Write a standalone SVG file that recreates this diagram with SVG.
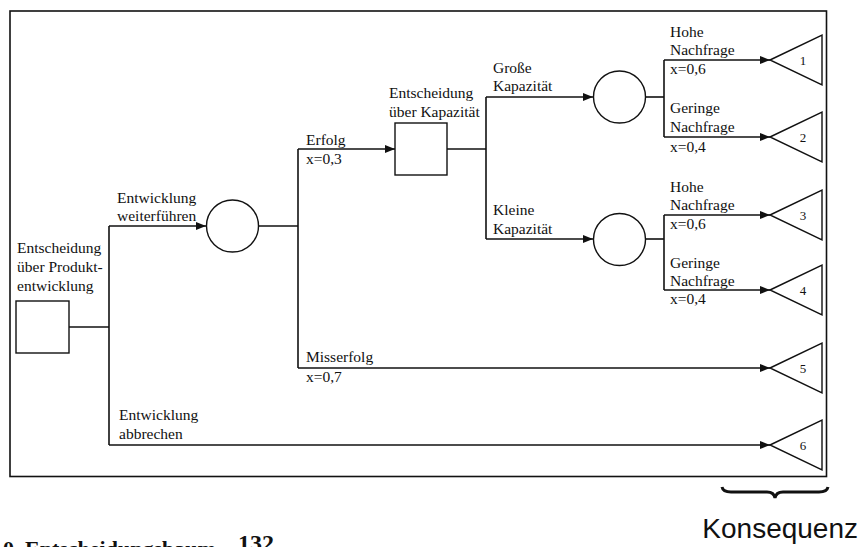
<svg xmlns="http://www.w3.org/2000/svg" width="862" height="547" viewBox="0 0 862 547">
  <style>
    .ln { fill: none; stroke: #111; stroke-width: 1.6; }
    .shape { fill: #fff; stroke: #111; stroke-width: 1.4; }
    .lbl { font-family: "Liberation Serif", "Times New Roman", serif; font-size: 15.5px; fill: #111; }
    .num { font-family: "Liberation Serif", "Times New Roman", serif; font-size: 13px; fill: #111; text-anchor: middle; dominant-baseline: central; }
  </style>
  <defs>
    <marker id="arr" viewBox="0 0 10 8" refX="10" refY="4" markerWidth="10" markerHeight="8" markerUnits="userSpaceOnUse" orient="auto">
      <path d="M0,0 L10,4 L0,8 Z" fill="#111"/>
    </marker>
  </defs>

  <rect x="10" y="11" width="816.5" height="465.5" fill="none" stroke="#111" stroke-width="1.6"/>

  <!-- connectors -->
  <g id="connectors">
    <!-- product development decision -->
    <path class="ln" d="M69,327 H109"/>
    <path class="ln" d="M109,226 V445"/>
    <path class="ln" d="M109,226 H206" marker-end="url(#arr)"/>
    <path class="ln" d="M109,445 H770" marker-end="url(#arr)"/>
    <!-- success / failure chance -->
    <path class="ln" d="M259,226 H298"/>
    <path class="ln" d="M298,149 V368"/>
    <path class="ln" d="M298,149 H395" marker-end="url(#arr)"/>
    <path class="ln" d="M298,368 H770" marker-end="url(#arr)"/>
    <!-- capacity decision -->
    <path class="ln" d="M447,149 H486"/>
    <path class="ln" d="M486,97 V239"/>
    <path class="ln" d="M486,97 H593" marker-end="url(#arr)"/>
    <path class="ln" d="M486,239 H593" marker-end="url(#arr)"/>
    <!-- demand chances -->
    <path class="ln" d="M646,97 H664"/>
    <path class="ln" d="M664,60 V137"/>
    <path class="ln" d="M664,60 H770" marker-end="url(#arr)"/>
    <path class="ln" d="M664,137 H770" marker-end="url(#arr)"/>
    <path class="ln" d="M646,239 H664"/>
    <path class="ln" d="M664,215 V290"/>
    <path class="ln" d="M664,215 H770" marker-end="url(#arr)"/>
    <path class="ln" d="M664,290 H770" marker-end="url(#arr)"/>
  </g>

  <!-- decision and chance nodes -->
  <g id="decision-product">
    <rect class="shape" x="16" y="301" width="53" height="52"/>
    <text class="lbl" x="17" y="253">Entscheidung</text>
    <text class="lbl" x="17" y="272">über Produkt-</text>
    <text class="lbl" x="17" y="291">entwicklung</text>
  </g>
  <g id="chance-development">
    <circle class="shape" cx="232.5" cy="226" r="26"/>
  </g>
  <g id="decision-capacity">
    <rect class="shape" x="395" y="123" width="52" height="52"/>
    <text class="lbl" x="389" y="98">Entscheidung</text>
    <text class="lbl" x="389" y="117">über Kapazität</text>
  </g>
  <g id="chance-large">
    <circle class="shape" cx="619.5" cy="97" r="26"/>
  </g>
  <g id="chance-small">
    <circle class="shape" cx="619.5" cy="239.5" r="26"/>
  </g>

  <!-- branch labels -->
  <g id="labels">
    <text class="lbl" x="117" y="203">Entwicklung</text>
    <text class="lbl" x="117" y="221">weiterführen</text>
    <text class="lbl" x="119" y="420">Entwicklung</text>
    <text class="lbl" x="119" y="439">abbrechen</text>
    <text class="lbl" x="306" y="145">Erfolg</text>
    <text class="lbl" x="306" y="164">x=0,3</text>
    <text class="lbl" x="306" y="362">Misserfolg</text>
    <text class="lbl" x="306" y="382">x=0,7</text>
    <text class="lbl" x="493" y="73">Große</text>
    <text class="lbl" x="493" y="91">Kapazität</text>
    <text class="lbl" x="493" y="215">Kleine</text>
    <text class="lbl" x="493" y="234">Kapazität</text>
    <text class="lbl" x="670" y="37">Hohe</text>
    <text class="lbl" x="670" y="55">Nachfrage</text>
    <text class="lbl" x="670" y="74">x=0,6</text>
    <text class="lbl" x="670" y="113">Geringe</text>
    <text class="lbl" x="670" y="132">Nachfrage</text>
    <text class="lbl" x="670" y="152">x=0,4</text>
    <text class="lbl" x="670" y="192">Hohe</text>
    <text class="lbl" x="670" y="210">Nachfrage</text>
    <text class="lbl" x="670" y="229">x=0,6</text>
    <text class="lbl" x="670" y="268">Geringe</text>
    <text class="lbl" x="670" y="286">Nachfrage</text>
    <text class="lbl" x="670" y="304">x=0,4</text>
  </g>

  <!-- consequence nodes -->
  <g id="consequence-1"><path class="shape" d="M770,60 L822,35 V85 Z"/><text class="num" x="803" y="60">1</text></g>
  <g id="consequence-2"><path class="shape" d="M770,137 L822,112 V162 Z"/><text class="num" x="803" y="137">2</text></g>
  <g id="consequence-3"><path class="shape" d="M770,215 L822,190 V240 Z"/><text class="num" x="803" y="215">3</text></g>
  <g id="consequence-4"><path class="shape" d="M770,290 L822,265 V315 Z"/><text class="num" x="803" y="290">4</text></g>
  <g id="consequence-5"><path class="shape" d="M770,368 L822,343 V393 Z"/><text class="num" x="803" y="368">5</text></g>
  <g id="consequence-6"><path class="shape" d="M770,445 L822,420 V470 Z"/><text class="num" x="803" y="445">6</text></g>

  <!-- brace over the consequence column -->
  <path d="M722,487 Q723,492 731,492 L767,492 Q774,492 775,498 Q776,492 783,492 L819,492 Q827,492 828,487" fill="none" stroke="#111" stroke-width="3"/>
  <text x="858" y="538" text-anchor="end" font-family="Liberation Sans, Arial, sans-serif" font-size="28" fill="#111">Konsequenz</text>

  <!-- caption, cut by the lower edge -->
  <text x="3" y="556" font-family="Liberation Serif, Times New Roman, serif" font-size="22" font-weight="bold" fill="#111">0. Entscheidungsbaum</text>
  <text x="238" y="551" font-family="Liberation Serif, Times New Roman, serif" font-size="24" font-weight="bold" fill="#111">132</text>
</svg>
